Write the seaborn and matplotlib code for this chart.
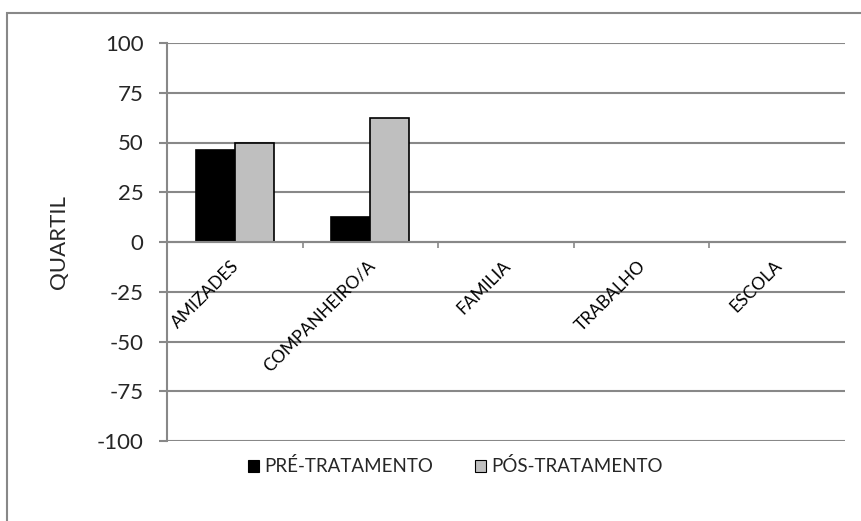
import numpy as np
import pandas as pd
import matplotlib
matplotlib.use("Agg")
import matplotlib.pyplot as plt
from matplotlib.patches import Rectangle, Patch
from matplotlib.transforms import ScaledTranslation
import seaborn as sns

# Data
categories = ["AMIZADES", "COMPANHEIRO/A", "FAMILIA", "TRABALHO", "ESCOLA"]
series = ["PRÉ-TRATAMENTO", "PÓS-TRATAMENTO"]
pre_values = [46, 12.5, 0, 0, 0]
post_values = [50, 62.5, 0, 0, 0]
y_ticks = [-100, -75, -50, -25, 0, 25, 50, 75, 100]
colors = ["#000000", "#bfbfbf"]

df = pd.DataFrame({
    "categoria": categories * 2,
    "valor": pre_values + post_values,
    "serie": [series[0]] * len(categories) + [series[1]] * len(categories),
})

sns.set_theme(style="white")
plt.rcParams["font.family"] = ["Lato", "DejaVu Sans"]
plt.rcParams["axes.unicode_minus"] = False

grid_gray = "#888888"

fig = plt.figure(figsize=(8.61, 5.21), dpi=100)
ax = fig.add_axes([167 / 861, 1 - 441 / 521, (845 - 167) / 861, (441 - 43) / 521])

sns.barplot(data=df, x="categoria", y="valor", hue="serie", order=categories,
            hue_order=series, palette=colors, saturation=1, width=0.575,
            edgecolor="black", linewidth=1.2, errorbar=None, legend=False, ax=ax)

# zero-height bars stay invisible
for p in ax.patches:
    if p.get_height() == 0:
        p.set_linewidth(0)

ax.set_xlim(-0.5, len(categories) - 0.5)
ax.set_ylim(-100, 100)
ax.set_yticks(y_ticks)
ax.yaxis.grid(True, color=grid_gray, linewidth=1.5)
ax.set_axisbelow(True)

for side in ["top", "right"]:
    ax.spines[side].set_visible(False)
ax.spines["left"].set_color(grid_gray)
ax.spines["left"].set_linewidth(1.5)
ax.spines["bottom"].set_position(("data", 0))
ax.spines["bottom"].set_color(grid_gray)
ax.spines["bottom"].set_linewidth(1.5)

ax.tick_params(axis="y", which="major", direction="out", length=6, width=1.5,
               color=grid_gray, labelsize=16, pad=11, left=True)

# tick marks on group boundaries; category names written diagonally under each group
ax.set_xticks(range(len(categories)))
ax.set_xticklabels([""] * len(categories))
ax.set_xticks(np.arange(0.5, len(categories) - 0.5, 1), minor=True)
ax.tick_params(axis="x", which="major", length=0)
ax.tick_params(axis="x", which="minor", direction="out", length=4, width=1.2,
               color=grid_gray, bottom=True)
label_offset = ScaledTranslation(0.02, -0.21, fig.dpi_scale_trans)
for i, cat in enumerate(categories):
    ax.text(i, 0, cat, transform=ax.transData + label_offset, rotation=45,
            rotation_mode="anchor", ha="right", va="center", fontsize=12.5,
            color="black")

ax.set_xlabel("")
ax.set_ylabel("QUARTIL", fontsize=16)
ax.yaxis.set_label_coords(-0.145, 0.5)

handles = [Patch(facecolor=c, edgecolor="black", linewidth=0.8) for c in colors]
fig.legend(handles=handles, labels=series, loc="center", bbox_to_anchor=(0.529, 0.105),
           ncol=2, frameon=False, handlelength=0.6, handleheight=0.6,
           handletextpad=0.3, columnspacing=2.2, fontsize=13.5)

fig.add_artist(Rectangle((7 / 861, -0.1), 1.2, (1 - 13 / 521) + 0.1,
                         transform=fig.transFigure, fill=False,
                         edgecolor=grid_gray, linewidth=1.5))

fig.savefig("out.png", dpi=100, facecolor="white")
